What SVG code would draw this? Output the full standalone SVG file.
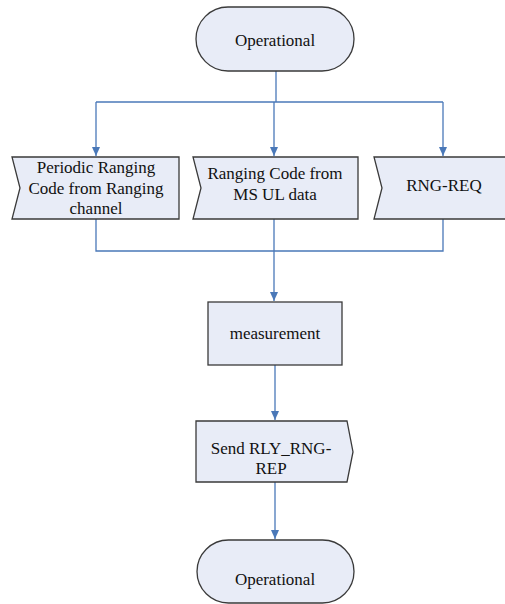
<svg xmlns="http://www.w3.org/2000/svg" width="505" height="604" viewBox="0 0 505 604">
<style>
.n{fill:#e8ecf7;stroke:#3a3a3a;stroke-width:1.3}
.c{fill:none;stroke:#4a78b8;stroke-width:1.3}
.t{font-family:'Liberation Serif','Times New Roman',serif;font-size:17px;fill:#111;text-anchor:middle}
</style>
<defs>
<marker id="a" markerWidth="10" markerHeight="8" refX="9" refY="4" orient="auto" markerUnits="userSpaceOnUse">
<path d="M0,0 L9,4 L0,8 Z" fill="#4a78b8"/>
</marker>
</defs>
<rect width="505" height="604" fill="#fff"/>
<g id="connectors">
<path class="c" d="M276,71 V102"/>
<path class="c" d="M96,102 H443"/>
<path class="c" d="M96,102 V156" marker-end="url(#a)"/>
<path class="c" d="M274,102 V156" marker-end="url(#a)"/>
<path class="c" d="M443,102 V156" marker-end="url(#a)"/>
<path class="c" d="M96,219 V251 H443 V219"/>
<path class="c" d="M274,219 V301" marker-end="url(#a)"/>
<path class="c" d="M275,365 V420" marker-end="url(#a)"/>
<path class="c" d="M275,482 V539" marker-end="url(#a)"/>
</g>
<g id="op1">
<rect class="n" x="196" y="7" width="158" height="64" rx="32"/>
<text class="t" x="275" y="46">Operational</text>
</g>
<g id="periodic">
<path class="n" d="M12,157 H179 V219 H12 L20,188 Z"/>
<text class="t" x="96" y="173">Periodic Ranging</text>
<text class="t" x="96" y="194">Code from Ranging</text>
<text class="t" x="96" y="214">channel</text>
</g>
<g id="msul">
<path class="n" d="M193,157 H358 V219 H193 L201,188 Z"/>
<text class="t" x="275" y="179">Ranging Code from</text>
<text class="t" x="275" y="200">MS UL data</text>
</g>
<g id="rngreq">
<path class="n" d="M374,157 H508 V219 H374 L382,188 Z"/>
<text class="t" x="444" y="191">RNG-REQ</text>
</g>
<g id="measurement">
<rect class="n" x="208" y="302" width="134" height="63"/>
<text class="t" x="275" y="339">measurement</text>
</g>
<g id="send">
<path class="n" d="M196,421 H347 L353,452 L347,482 H196 Z"/>
<text class="t" x="271" y="454">Send RLY_RNG-</text>
<text class="t" x="271" y="474">REP</text>
</g>
<g id="op2">
<rect class="n" x="197" y="540" width="157" height="63" rx="31.5"/>
<text class="t" x="275" y="585">Operational</text>
</g>
</svg>
